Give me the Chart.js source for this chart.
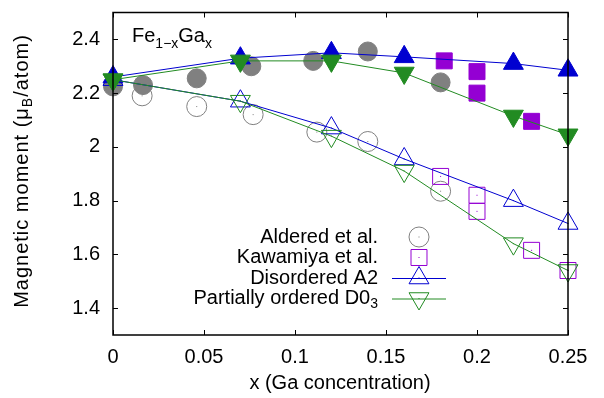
<!DOCTYPE html>
<html>
<head>
<meta charset="utf-8">
<script src="https://cdn.jsdelivr.net/npm/chart.js@4.4.0/dist/chart.umd.min.js"></script>
<style>
  html, body { margin: 0; padding: 0; background: #fff; }
</style>
</head>
<body>
<canvas id="chart" width="604" height="398"></canvas>
<script>
"use strict";
//---------------- data -------------------------------------------------
// calculated points (same x for A2 and D0_3)
const calcX = [0, 0.07, 0.12, 0.16, 0.22, 0.25];
const a2Filled = [2.26, 2.33, 2.35, 2.335, 2.31, 2.285];
const a2Open = [2.25, 2.17, 2.07, 1.955, 1.80, 1.715];
const d03Filled = [2.25, 2.32, 2.32, 2.275, 2.115, 2.045];
const d03Open = [2.25, 2.17, 2.04, 1.91, 1.64, 1.54];

// Aldered et al.
const alderedFilledX = [0, 0.0165, 0.046, 0.076, 0.11, 0.14, 0.18];
const alderedFilledY = [2.225, 2.23, 2.255, 2.30, 2.32, 2.355, 2.24];
const alderedOpenX = [0.016, 0.046, 0.077, 0.112, 0.14, 0.18];
const alderedOpenY = [2.19, 2.15, 2.12, 2.055, 2.02, 1.835];

// Kawamiya et al.
const kawaFilledX = [0.182, 0.2, 0.2, 0.23];
const kawaFilledY = [2.32, 2.28, 2.20, 2.095];
const kawaOpenX = [0.18, 0.2, 0.2, 0.23, 0.25];
const kawaOpenY = [1.89, 1.82, 1.76, 1.615, 1.54];

const xTicks = [0, 0.05, 0.1, 0.15, 0.2, 0.25];
const yTicks = [1.4, 1.6, 1.8, 2.0, 2.2, 2.4];

//---------------- colours / fonts --------------------------------------
const BLUE = "#0000d0";
const GREEN = "#228b22";
const PURPLE = "#9400d3";
const GREY = "#808080";
const FONT = "'Liberation Sans', Arial, sans-serif";
const FSIZE = 20;
const SUBSIZE = 14;

function pts(xs, ys) {
  return xs.map((x, i) => ({ x: x, y: ys[i] }));
}

// same triangle geometry as Chart.js uses
function marker(ctx, shape, x, y, r, color, filled, rot) {
  ctx.save();
  ctx.beginPath();
  if (shape === "circle") {
    ctx.arc(x, y, r, 0, Math.PI * 2);
  } else if (shape === "rect") {
    let s = r * Math.SQRT1_2;
    ctx.rect(x - s, y - s, 2 * s, 2 * s);
  } else {
    let a = (rot || 0) * Math.PI / 180;
    for (let k = 0; k < 3; k++) {
      let px = x + Math.sin(a) * r;
      let py = y - Math.cos(a) * r;
      if (k === 0) ctx.moveTo(px, py); else ctx.lineTo(px, py);
      a += Math.PI * 2 / 3;
    }
    ctx.closePath();
  }
  ctx.lineWidth = 1;
  ctx.strokeStyle = color;
  if (filled) { ctx.fillStyle = color; ctx.fill(); }
  ctx.stroke();
  if (!filled) { ctx.fillStyle = color; ctx.fillRect(x - 0.5, y - 0.5, 1, 1); }
  ctx.restore();
}

// text with a subscript part: parts = [[text, isSub], ...]
function measureParts(ctx, parts) {
  let w = 0;
  for (let p of parts) {
    ctx.font = (p[1] ? SUBSIZE : FSIZE) + "px " + FONT;
    w += ctx.measureText(p[0]).width;
  }
  return w;
}
function drawParts(ctx, parts, x, y) {
  for (let p of parts) {
    ctx.font = (p[1] ? SUBSIZE : FSIZE) + "px " + FONT;
    ctx.fillText(p[0], x, p[1] ? y + 6 : y);
    x += ctx.measureText(p[0]).width;
  }
}

//---------------- plugin: frame, ticks, legend, titles ----------------
const gnuplotLook = {
  id: "gnuplotLook",
  afterDatasetsDraw(chart) {
    const ctx = chart.ctx;
    // centre dots of the open markers
    chart.data.datasets.forEach((ds, i) => {
      if (!ds.dot) return;
      ctx.fillStyle = ds.pointBorderColor;
      for (let p of chart.getDatasetMeta(i).data) {
        ctx.fillRect(p.x - 0.5, p.y - 0.5, 1, 1);
      }
    });
  },
  afterDraw(chart) {
    const ctx = chart.ctx;
    const a = chart.chartArea;
    const xs = chart.scales.x, ys = chart.scales.y;
    ctx.save();
    ctx.strokeStyle = "#000";
    ctx.lineWidth = 1;
    ctx.beginPath();
    for (let v of xTicks) {
      let px = Math.round(xs.getPixelForValue(v)) + 0.5;
      ctx.moveTo(px, a.bottom); ctx.lineTo(px, a.bottom - 5);
      ctx.moveTo(px, a.top); ctx.lineTo(px, a.top + 5);
    }
    for (let v of yTicks) {
      let py = Math.round(ys.getPixelForValue(v)) + 0.5;
      ctx.moveTo(a.left, py); ctx.lineTo(a.left + 5, py);
      ctx.moveTo(a.right, py); ctx.lineTo(a.right - 5, py);
    }
    ctx.stroke();
    ctx.lineWidth = 1.5;
    ctx.strokeRect(a.left, a.top, a.right - a.left, a.bottom - a.top);

    // legend
    ctx.fillStyle = "#000";
    ctx.textBaseline = "middle";
    ctx.textAlign = "left";
    const rows = [
      { parts: [["Aldered et al.", false]], shape: "circle", r: 10, color: GREY, line: false },
      { parts: [["Kawamiya et al.", false]], shape: "rect", r: 11.3, color: PURPLE, line: false },
      { parts: [["Disordered A2", false]], shape: "triangle", r: 11.5, color: BLUE, line: true, rot: 0 },
      { parts: [["Partially ordered D0", false], ["3", true]], shape: "triangle", r: 11.5, color: GREEN, line: true, rot: 180 }
    ];
    let ly = 237;
    for (let row of rows) {
      let w = measureParts(ctx, row.parts);
      ctx.fillStyle = "#000";
      drawParts(ctx, row.parts, 378 - w, ly);
      if (row.line) {
        ctx.strokeStyle = row.color;
        ctx.lineWidth = 1;
        ctx.beginPath();
        ctx.moveTo(392, ly + 0.5); ctx.lineTo(446, ly + 0.5);
        ctx.stroke();
      }
      marker(ctx, row.shape, 419, ly, row.r, row.color, false, row.rot);
      ly += 20.5;
    }

    // formula in the corner
    ctx.fillStyle = "#000";
    ctx.textBaseline = "alphabetic";
    drawParts(ctx, [["Fe", false], ["1\u2212x", true], ["Ga", false], ["x", true]], 132, 42);

    // axis titles
    ctx.textBaseline = "middle";
    ctx.font = FSIZE + "px " + FONT;
    ctx.textAlign = "center";
    ctx.fillText("x (Ga concentration)", 340, 383);

    ctx.save();
    ctx.translate(22, 171);
    ctx.rotate(-Math.PI / 2);
    ctx.textAlign = "left";
    ctx.letterSpacing = "1px";
    const yParts = [["Magnetic moment (\u03bc", false], ["B", true], ["/atom)", false]];
    drawParts(ctx, yParts, -measureParts(ctx, yParts) / 2, 0);
    ctx.restore();
    ctx.restore();
  }
};

//---------------- datasets ---------------------------------------------
function scatterSet(label, data, style, color, filled, r, rot, order, line) {
  return {
    label: label,
    data: data,
    showLine: !!line,
    clip: false,
    borderColor: color,
    borderWidth: 1,
    pointStyle: style,
    pointRadius: r,
    pointHoverRadius: r,
    pointRotation: rot,
    pointBorderWidth: 1,
    pointBorderColor: color,
    pointBackgroundColor: filled ? color : "rgba(0,0,0,0)",
    dot: !filled,
    order: order
  };
}

const datasets = [
  scatterSet("Aldered filled", pts(alderedFilledX, alderedFilledY), "circle", GREY, true, 9.5, 0, 8, false),
  scatterSet("Aldered et al.", pts(alderedOpenX, alderedOpenY), "circle", GREY, false, 10, 0, 7, false),
  scatterSet("Kawamiya filled", pts(kawaFilledX, kawaFilledY), "rect", PURPLE, true, 11.3, 0, 6, false),
  scatterSet("Kawamiya et al.", pts(kawaOpenX, kawaOpenY), "rect", PURPLE, false, 11.3, 0, 5, false),
  scatterSet("Disordered A2 filled", pts(calcX, a2Filled), "triangle", BLUE, true, 11.5, 0, 4, true),
  scatterSet("Disordered A2", pts(calcX, a2Open), "triangle", BLUE, false, 11.5, 0, 3, true),
  scatterSet("D03 filled", pts(calcX, d03Filled), "triangle", GREEN, true, 11.5, 180, 2, true),
  scatterSet("Partially ordered D03", pts(calcX, d03Open), "triangle", GREEN, false, 11.5, 180, 1, true)
];

new Chart(document.getElementById("chart"), {
  type: "scatter",
  data: { datasets: datasets },
  plugins: [gnuplotLook],
  options: {
    responsive: false,
    animation: false,
    events: [],
    layout: { padding: { left: 0, right: 36, top: 11, bottom: 0 } },
    plugins: { legend: { display: false }, tooltip: { enabled: false } },
    scales: {
      x: {
        type: "linear",
        min: 0,
        max: 0.25,
        afterBuildTicks: s => { s.ticks = xTicks.map(v => ({ value: v })); },
        afterFit: s => { s.height = 63; s.paddingLeft = 0; s.paddingRight = 0; },
        grid: { display: false, drawTicks: false },
        border: { display: false },
        ticks: {
          padding: 10,
          color: "#000",
          font: { family: FONT, size: FSIZE },
          maxRotation: 0,
          callback: v => String(+v.toFixed(2))
        }
      },
      y: {
        type: "linear",
        min: 1.3,
        max: 2.5,
        afterBuildTicks: s => { s.ticks = yTicks.map(v => ({ value: v })); },
        afterFit: s => { s.width = 113; s.paddingTop = 0; s.paddingBottom = 0; },
        grid: { display: false, drawTicks: false },
        border: { display: false },
        ticks: {
          padding: 13,
          color: "#000",
          font: { family: FONT, size: FSIZE },
          callback: v => String(+v.toFixed(1))
        }
      }
    }
  }
});
</script>
</body>
</html>
